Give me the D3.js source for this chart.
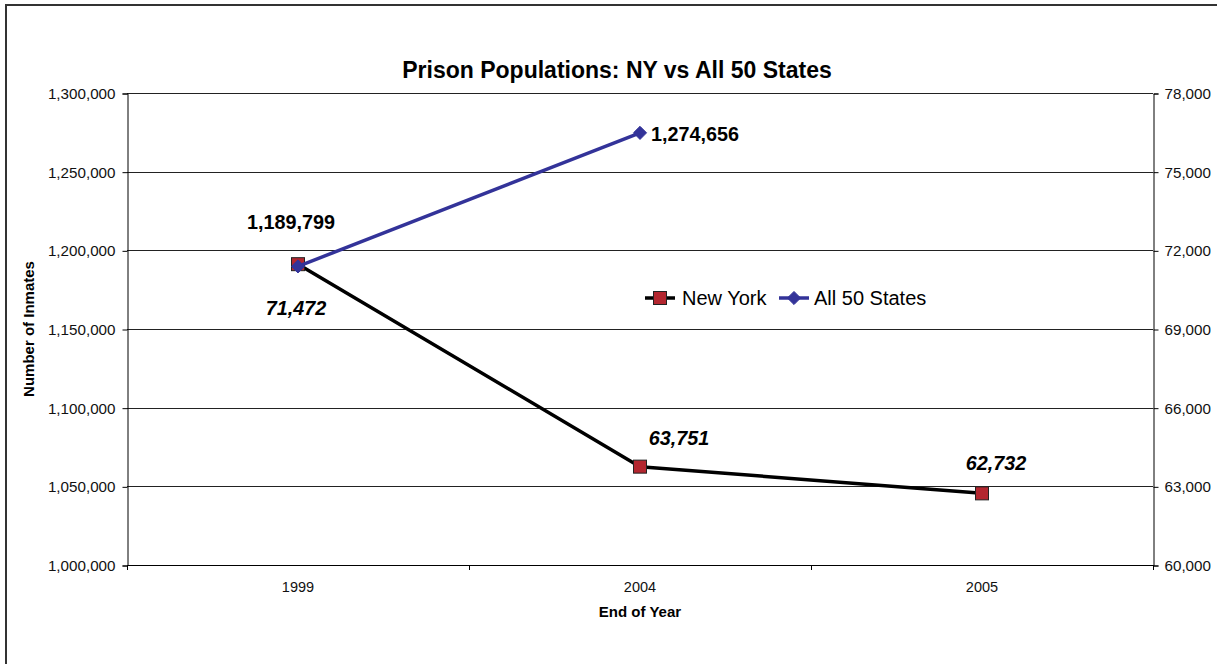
<!DOCTYPE html>
<html>
<head>
<meta charset="utf-8">
<script src="https://cdn.jsdelivr.net/npm/d3@7"></script>
<style>
  html, body { margin: 0; padding: 0; background: #fff; overflow: hidden; }
  svg { display: block; font-family: "Liberation Sans", Arial, sans-serif; }
</style>
</head>
<body>
<svg id="chart" width="1217" height="664"></svg>
<script>
// Year-end prison populations
const years = ["1999", "2004", "2005"];
const newYork = [71472, 63751, 62732];          // right axis
const allStates = [1189799, 1274656];           // left axis (1999, 2004)
const leftTicks = [1000000, 1050000, 1100000, 1150000, 1200000, 1250000, 1300000];
const rightTicks = [60000, 63000, 66000, 69000, 72000, 75000, 78000];

const svg = d3.select("#chart");
const plot = { left: 127, right: 1153, top: 93, bottom: 565 };
const fmt = d3.format(",");

// Outer frame
svg.append("rect")
  .attr("x", 6).attr("y", 5).attr("width", 1240).attr("height", 700)
  .attr("fill", "#fff").attr("stroke", "#333").attr("stroke-width", 2);

const x = d3.scaleBand().domain(years).range([plot.left, plot.right]).padding(0);
const yL = d3.scaleLinear().domain([1000000, 1300000]).range([plot.bottom, plot.top]);
const yR = d3.scaleLinear().domain([60000, 78000]).range([plot.bottom, plot.top]);
const cx = d => x(d) + x.bandwidth() / 2;

// Horizontal gridlines
svg.append("g").selectAll("line").data(leftTicks).join("line")
  .attr("x1", plot.left).attr("x2", plot.right)
  .attr("y1", d => Math.round(yL(d)) + 0.5).attr("y2", d => Math.round(yL(d)) + 0.5)
  .attr("stroke", "#222").attr("stroke-width", 1);

// Left axis
const gL = svg.append("g").attr("transform", `translate(${plot.left + 0.5},0.5)`)
  .call(d3.axisLeft(yL).tickValues(leftTicks).tickFormat(fmt).tickSize(5).tickPadding(7));
gL.selectAll("text").attr("font-size", 15.2).attr("fill", "#111")
  .attr("font-family", "Liberation Sans, Arial, sans-serif");
gL.select(".domain").attr("stroke", "#000");
gL.selectAll(".tick line").attr("stroke", "#000");

// Right axis
const gR = svg.append("g").attr("transform", `translate(${plot.right + 0.5},0.5)`)
  .call(d3.axisRight(yR).tickValues(rightTicks).tickFormat(fmt).tickSize(5).tickPadding(6));
gR.selectAll("text").attr("font-size", 15.2).attr("fill", "#111")
  .attr("font-family", "Liberation Sans, Arial, sans-serif");
gR.select(".domain").attr("stroke", "#000");
gR.selectAll(".tick line").attr("stroke", "#000");

// Category axis: ticks between categories, labels centred
const gX = svg.append("g");
gX.append("line").attr("x1", plot.left).attr("x2", plot.right)
  .attr("y1", plot.bottom + 0.5).attr("y2", plot.bottom + 0.5).attr("stroke", "#000");
const bounds = years.map(d => x(d)).concat([plot.right]);
gX.selectAll("line.tk").data(bounds).join("line").attr("class", "tk")
  .attr("x1", d => Math.round(d) + 0.5).attr("x2", d => Math.round(d) + 0.5)
  .attr("y1", plot.bottom).attr("y2", plot.bottom + 5).attr("stroke", "#000");
gX.selectAll("text").data(years).join("text")
  .attr("x", d => cx(d)).attr("y", 592).attr("text-anchor", "middle")
  .attr("font-size", 14.5).attr("fill", "#111").text(d => d);

// Titles
svg.append("text").attr("x", 617).attr("y", 78).attr("text-anchor", "middle")
  .attr("font-size", 23).attr("font-weight", "bold").attr("fill", "#000")
  .text("Prison Populations: NY vs All 50 States");
svg.append("text").attr("x", 640).attr("y", 617).attr("text-anchor", "middle")
  .attr("font-size", 15).attr("font-weight", "bold").attr("fill", "#000")
  .text("End of Year");
svg.append("text").attr("transform", "translate(34,329) rotate(-90)")
  .attr("text-anchor", "middle").attr("font-size", 15).attr("font-weight", "bold")
  .attr("fill", "#000").text("Number of Inmates");

// Series lines
const nyPts = years.map((d, i) => [cx(d), yR(newYork[i])]);
const usPts = allStates.map((v, i) => [cx(years[i]), yL(v)]);
const line = d3.line();

svg.append("path").attr("d", line(nyPts)).attr("fill", "none")
  .attr("stroke", "#000").attr("stroke-width", 3.5).attr("stroke-linejoin", "round");

const square = (g, px, py) => g.append("rect")
  .attr("x", px - 6.5).attr("y", py - 6.5).attr("width", 13).attr("height", 13)
  .attr("fill", "#B3262F").attr("stroke", "#222").attr("stroke-width", 1);
const diamond = (g, px, py) => g.append("path")
  .attr("d", d3.symbol(d3.symbolDiamond2, 110)())
  .attr("transform", `translate(${px},${py})`)
  .attr("fill", "#333399").attr("stroke", "#333399").attr("stroke-width", 1);

const marks = svg.append("g");
nyPts.forEach(p => square(marks, p[0], p[1]));

svg.append("path").attr("d", line(usPts)).attr("fill", "none")
  .attr("stroke", "#333399").attr("stroke-width", 3.5).attr("stroke-linejoin", "round");
const marks2 = svg.append("g");
usPts.forEach(p => diamond(marks2, p[0], p[1]));

// Data labels
const lab = svg.append("g").attr("font-size", 19.8).attr("font-weight", "bold").attr("fill", "#000");
lab.append("text").attr("x", usPts[0][0] - 7).attr("y", usPts[0][1] - 37)
  .attr("text-anchor", "middle").text(fmt(allStates[0]));
lab.append("text").attr("x", usPts[1][0] + 11).attr("y", usPts[1][1] + 8)
  .attr("text-anchor", "start").text(fmt(allStates[1]));
lab.append("text").attr("x", nyPts[0][0] - 2).attr("y", nyPts[0][1] + 51)
  .attr("text-anchor", "middle").attr("font-style", "italic").text(fmt(newYork[0]));
lab.append("text").attr("x", nyPts[1][0] + 39).attr("y", nyPts[1][1] - 22)
  .attr("text-anchor", "middle").attr("font-style", "italic").text(fmt(newYork[1]));
lab.append("text").attr("x", nyPts[2][0] + 14).attr("y", nyPts[2][1] - 23)
  .attr("text-anchor", "middle").attr("font-style", "italic").text(fmt(newYork[2]));

// Legend
const lg = svg.append("g").attr("transform", "translate(0,298)");
lg.append("line").attr("x1", 645).attr("x2", 675).attr("y1", 0).attr("y2", 0)
  .attr("stroke", "#000").attr("stroke-width", 3.5);
square(lg, 660, 0);
lg.append("text").attr("x", 682).attr("y", 7).attr("font-size", 20).attr("fill", "#000").text("New York");
lg.append("line").attr("x1", 779).attr("x2", 809).attr("y1", 0).attr("y2", 0)
  .attr("stroke", "#333399").attr("stroke-width", 3.5);
diamond(lg, 794, 0);
lg.append("text").attr("x", 814).attr("y", 7).attr("font-size", 20).attr("fill", "#000").text("All 50 States");
</script>
</body>
</html>
